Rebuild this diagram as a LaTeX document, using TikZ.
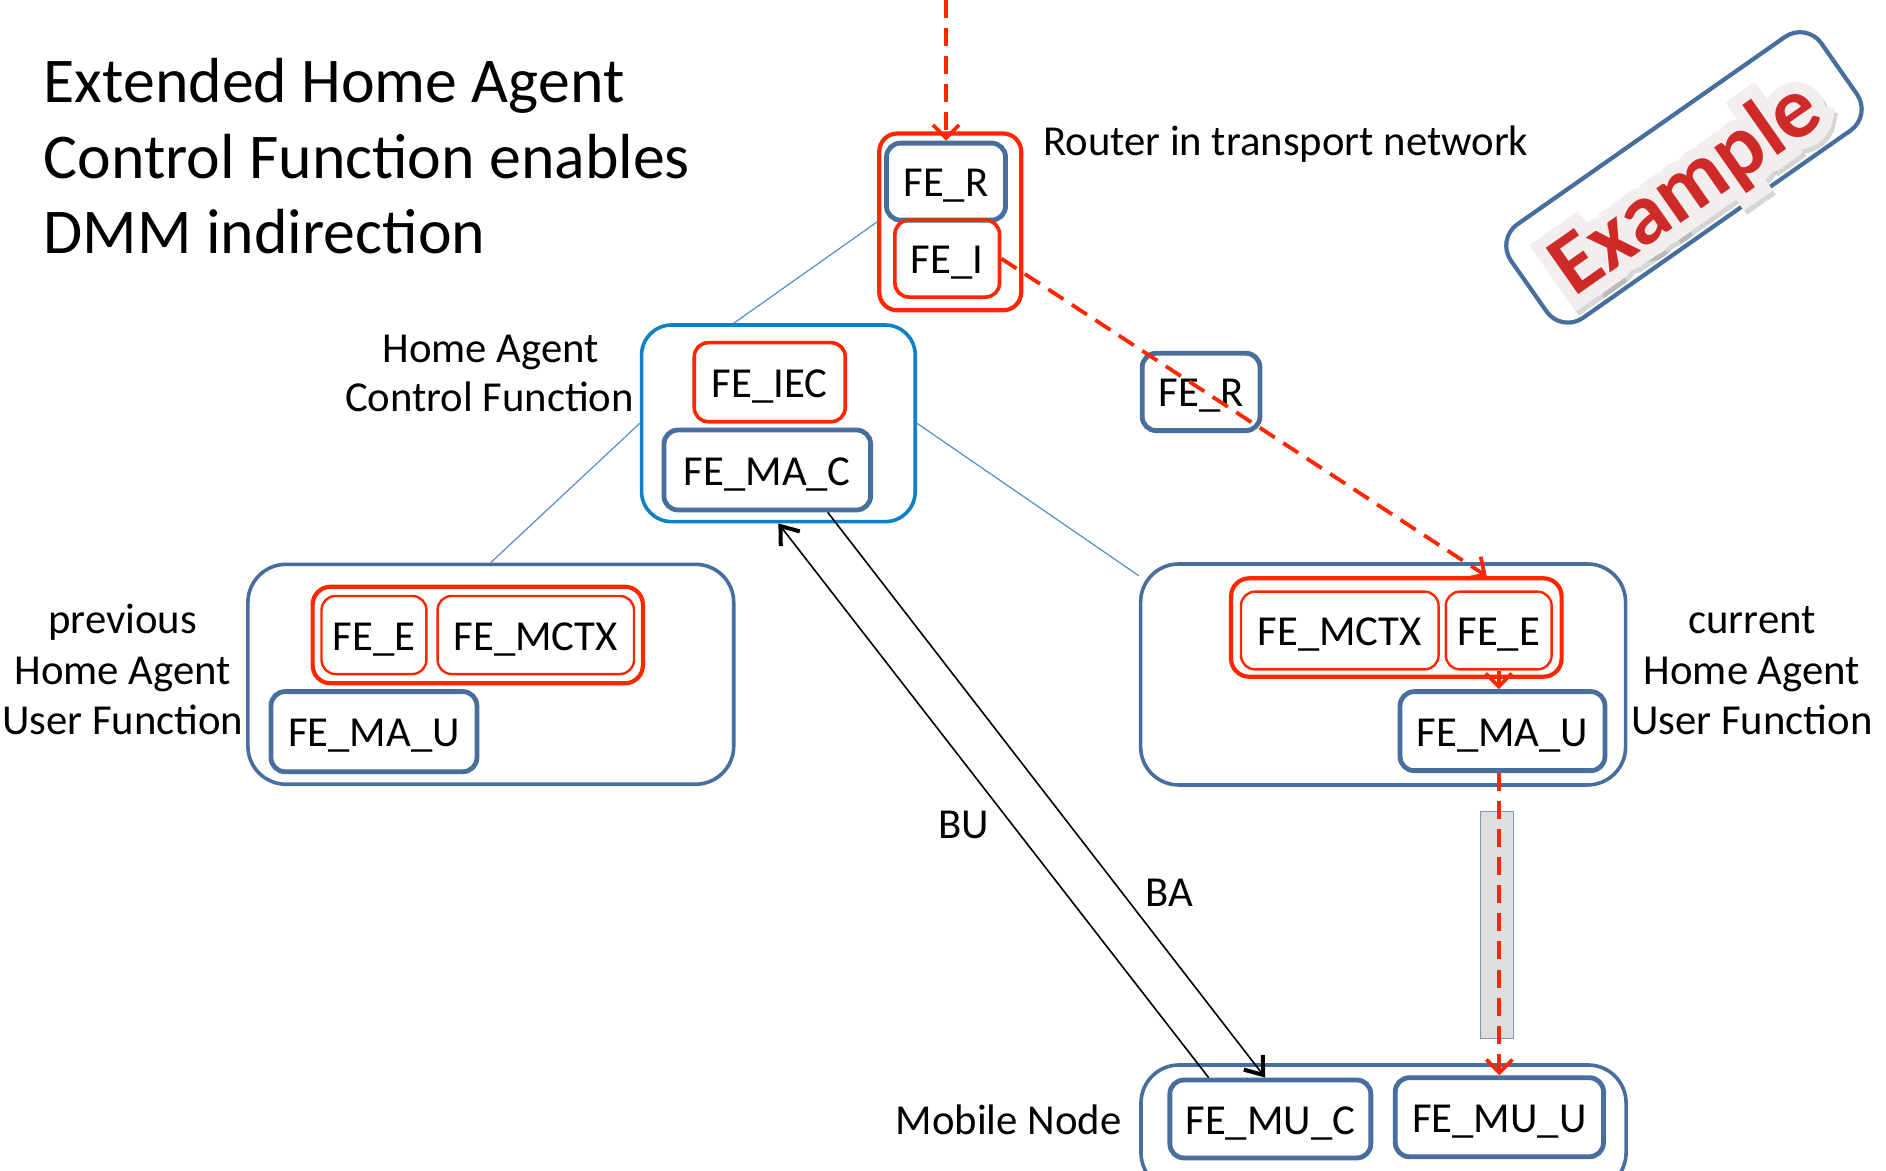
\documentclass[tikz,border=0pt]{standalone}
\usepackage{fontspec}
\setmainfont{Carlito}
\newfontfamily\stampfont{Carlito Bold}
\newfontfamily\stamphalofont[FakeBold=28]{Carlito Bold}
\usetikzlibrary{arrows.meta,fit,calc}
\definecolor{steel}{RGB}{72,110,158}
\definecolor{fered}{RGB}{255,38,0}
\definecolor{cabox}{RGB}{14,128,200}
\definecolor{thinlink}{RGB}{85,140,205}
\definecolor{barfill}{RGB}{222,222,222}
\definecolor{barline}{RGB}{120,150,190}
\definecolor{stampred}{RGB}{205,42,40}
\definecolor{stamphalo}{RGB}{243,237,237}
\definecolor{stampshade}{RGB}{120,120,120}
\begin{document}
\begin{tikzpicture}[x=0.6pt,y=-0.6pt,
  lblfont/.style={font=\fontsize{21.3}{25.2}\selectfont},
  lbl/.style={lblfont, inner sep=0pt},
  ttl/.style={font=\fontsize{31.8}{37.8}\selectfont, inner sep=0pt, anchor=base west},
  felbl/.style={lblfont, inner sep=0pt, anchor=base},
  bluebox/.style={inner sep=0pt, draw=steel, line width=2.4pt, rounded corners=7pt},
  redbox/.style={inner sep=0pt, draw=fered, line width=1.8pt, rounded corners=7pt},
  redthin/.style={inner sep=0pt, draw=fered, line width=1.2pt, rounded corners=7pt},
  redgroup/.style={inner sep=0pt, draw=fered, line width=2.1pt, rounded corners=9pt},
  habox/.style={inner sep=0pt, draw=steel, line width=1.8pt, rounded corners=19pt},
  cfbox/.style={inner sep=0pt, draw=cabox, line width=1.8pt, rounded corners=15pt},
  link/.style={draw=thinlink, line width=0.6pt},
  flow/.style={draw=fered, line width=1.9pt, dash pattern=on 9pt off 5pt,
    -{Straight Barb[length=6.5pt,width=13pt]}},
  msg/.style={draw=black, line width=0.8pt,
    -{Straight Barb[length=8pt,width=12pt,line width=2pt]}},
  stamptext/.style={inner sep=0pt, anchor=base, rotate=35}
]
\useasboundingbox (0,0) rectangle (1568,973);

% title
\node[ttl] (t1) at (36,85) {Extended Home Agent};
\node[ttl] (t2) at (36,148) {Control Function enables};
\node[ttl] (t3) at (36,211) {DMM indirection};

% router in the transport network
\node[redgroup, fit={(731,111) (849,258)}] (rtgrp) {};
\node[bluebox, fit={(737,119) (836,183)}] (fer1) {};
\node[redbox, fit={(744,183) (831,247)}] (fei) {};
\node[felbl] (fer1l) at ($(fer1.center)+(0,12.5)$) {FE\_R};
\node[felbl] (feil) at ($(fei.center)+(0,12.5)$) {FE\_I};
\node[lbl, anchor=base west] (rtlbl) at (867,129) {Router in transport network};
\node[bluebox, fit={(949.6,293.7) (1047.5,358)}] (fer2) {};
\node[felbl] (fer2l) at ($(fer2.center)+(0,12.5)$) {FE\_R};

% home agent control function
\node[cfbox, fit={(533.4,270.2) (760.9,433.7)}] (hacf) {};
\node[redbox, fit={(577.2,284.9) (702.7,350.6)}] (feiec) {};
\node[bluebox, fit={(552,357.5) (723.8,424)}] (femac) {};
\node[felbl] (feiecl) at ($(feiec.center)+(0,12.5)$) {FE\_IEC};
\node[felbl] (femacl) at ($(femac.center)+(0,12.5)$) {FE\_MA\_C};
\node[lbl, anchor=base] (cfl1) at (408,301.5) {Home Agent};
\node[lbl, anchor=base] (cfl2) at (407,342.5) {Control Function};

% previous home agent user function
\node[habox, fit={(206.1,469.2) (610,652)}] (prevha) {};
\node[redgroup, fit={(259.9,487.8) (534.5,568.1)}] (pgrp) {};
\node[redthin, fit={(267.3,495.5) (354.5,560.4)}] (fee1) {};
\node[redthin, fit={(363.8,495.5) (527.1,560.4)}] (femctx1) {};
\node[bluebox, fit={(225.3,575) (396.5,641.6)}] (femau1) {};
\node[felbl] (fee1l) at ($(fee1.center)+(0,12.5)$) {FE\_E};
\node[felbl] (femctx1l) at ($(femctx1.center)+(0,12.5)$) {FE\_MCTX};
\node[felbl] (femau1l) at ($(femau1.center)+(0,12.5)$) {FE\_MA\_U};
\node[lbl, anchor=base] (pl1) at (102,527) {previous};
\node[lbl, anchor=base] (pl2) at (102,569) {Home Agent};
\node[lbl, anchor=base] (pl3) at (102,611) {User Function};

% current home agent user function
\node[habox, fit={(948.3,468.9) (1351.5,652.6)}] (curha) {};
\node[redgroup, fit={(1023.5,480.8) (1298.3,562.6)}] (cgrp) {};
\node[redthin, fit={(1031.7,491.9) (1196,556.5)}] (femctx2) {};
\node[redthin, fit={(1202,491.9) (1290,556.5)}] (fee2) {};
\node[bluebox, fit={(1164,575) (1334.3,640.7)}] (femau2) {};
\node[felbl] (femctx2l) at ($(femctx2.center)+(0,12.5)$) {FE\_MCTX};
\node[felbl] (fee2l) at ($(fee2.center)+(0,12.5)$) {FE\_E};
\node[felbl] (femau2l) at ($(femau2.center)+(0,12.5)$) {FE\_MA\_U};
\node[lbl, anchor=base] (cl1) at (1456.5,527) {current};
\node[lbl, anchor=base] (cl2) at (1456.5,569) {Home Agent};
\node[lbl, anchor=base] (cl3) at (1456.5,611) {User Function};

% mobile node
\node[habox, fit={(948.6,885.4) (1351.9,990)}] (mn) {};
\node[bluebox, fit={(972.6,897.9) (1139.7,962.7)}] (femuc) {};
\node[bluebox, fit={(1160,896) (1333.1,961.7)}] (femuu) {};
\node[felbl] (femucl) at ($(femuc.center)+(0,12.5)$) {FE\_MU\_C};
\node[felbl] (femuul) at ($(femuu.center)+(0,12.5)$) {FE\_MU\_U};
\node[lbl, anchor=base west] (mnlbl) at (744.3,943.6) {Mobile Node};

% tunnel between the current user function and the mobile node
\node[fill=barfill, draw=barline, line width=0.6pt, inner sep=0pt,
      fit={(1230.9,674.8) (1258.5,863.2)}] (tunnel) {};

% thin association lines
\draw[link] (hacf.114) -- (rtgrp.west);
\draw[link] (hacf.west) -- (prevha.north);
\draw[link] (hacf.east) -- (curha.158.7);

% binding update / binding acknowledgement
\draw[msg] ($(femuc.north west)!0.2!(femuc.north east)$) -- (hacf.south);
\draw[msg] ($(femac.south west)!0.786!(femac.south east)$) -- ($(femuc.north west)!0.475!(femuc.north east)$);
\node[lbl, anchor=base west] (bu) at (780,697) {BU};
\node[lbl, anchor=base west] (ba) at (952,754) {BA};

% user-plane path
\coordinate (ingress) at (786.5,0);
\draw[flow] (ingress) -- (fer1.north);
\draw[flow] (fei.east) -- ($(cgrp.north west)!0.77!(cgrp.north east)$);
\draw[flow] (fee2.south) -- (fee2.south |- femau2.north);
\draw[flow] (femuu.north |- femau2.south) -- (femuu.north);

% example stamp
\node[draw=steel, line width=2.1pt, rounded corners=13pt, minimum width=189pt,
      minimum height=57pt, inner sep=0pt, rotate=35] (stamp) at (1400,147.5) {};
\node[stamptext, text=stampshade, text opacity=0.3,
      font=\stamphalofont\fontsize{43.5}{48}\selectfont] (exshade) at ($(1414,174)+(1.5pt,-2pt)$) {Example};
\node[stamptext, text=stamphalo,
      font=\stamphalofont\fontsize{43.5}{48}\selectfont] (exhalo) at (1414,174) {Example};
\node[stamptext, text=stampred,
      font=\stampfont\fontsize{43.5}{48}\selectfont] (extext) at (1414,174) {Example};
\end{tikzpicture}
\end{document}
